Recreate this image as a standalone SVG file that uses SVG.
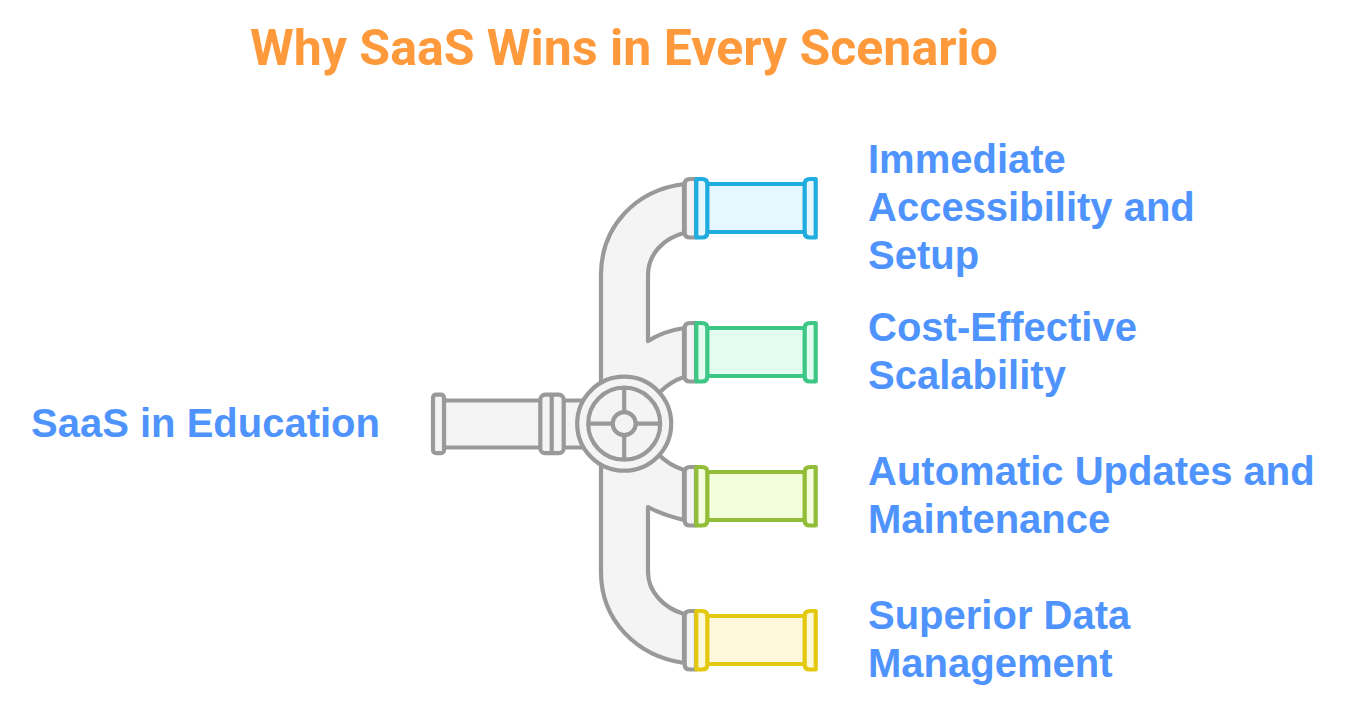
<svg xmlns="http://www.w3.org/2000/svg" width="1368" height="707" viewBox="0 0 1368 707">
<style>
text{font-family:"Liberation Sans",Arial,sans-serif;font-weight:700;font-size:40px;fill:#4f94fe}
.title{font-family:Roboto,"Liberation Sans",sans-serif;font-size:50px;font-weight:700;fill:#ff9a3c}
.g,.c{stroke-width:4.200;stroke-linejoin:round}
.g{fill:#f4f4f4;stroke:#999}
.blue{fill:#e6f7ff;stroke:#1eadde}
.green{fill:#e2fdef;stroke:#3ec685}
.olive{fill:#f2fedc;stroke:#92bd39}
.yellow{fill:#fef9da;stroke:#e3c90f}
</style>
<defs>
<path id="body" d="M707 0H805V48H707Z"/>
<path id="greyCollar" d="M696 -5H690Q684.700 -5 684.700 0V48.500Q684.700 53.500 690 53.500H696Z"/>
<path id="leftCollar" d="M696.300 -5H702Q707.300 -5 707.300 0V48.500Q707.300 53.500 702 53.500H696.300Z"/>
<path id="rightCollar" d="M815.700 -5H810Q804.700 -5 804.700 0V48.500Q804.700 53.500 810 53.500H815.700Z"/>
</defs>
<rect width="1368" height="707" fill="#fff"/>
<text class="title" x="250" y="64.500">Why SaaS Wins in Every Scenario</text>
<g id="connectors">
<path class="g" d="M684 184C636 190 601 226 601 275V572C601 620 636 656 684 663V614C664 608 648 592 648 572V507C659 513 671 517 684 520V470C674 467 665 461 658 454L660 392C667 385 675 380 684 377V328C671 330 659 334 648 341V275C648 254 664 238 684 233Z"/>
<path class="g" d="M444 400.500H541V447.500H444ZM563 400.500H590V447.500H563Z"/>
</g>
<g id="source">
<rect class="g" x="433" y="394.700" width="11" height="58.500" rx="3"/>
<rect class="g" x="540.300" y="394.700" width="23.400" height="58.500" rx="5"/>
<path class="g" d="M551.700 394.700V453.200"/>
<text x="31" y="437">SaaS in Education</text>
</g>
<g id="valve">
<circle class="g" cx="624.200" cy="423.700" r="47"/>
<circle class="g" cx="624.200" cy="423.700" r="36"/>
<path class="g" d="M624.200 387.700V459.700M588.200 423.700H660.200"/>
<circle class="g" cx="624.200" cy="423.700" r="11.500"/>
</g>
<g id="node1">
<use href="#greyCollar" class="g" y="184"/>
<use href="#body" class="c blue" y="184"/>
<use href="#leftCollar" class="c blue" y="184"/>
<use href="#rightCollar" class="c blue" y="184"/>
<text x="868" y="173">Immediate</text><text x="868" y="221">Accessibility and</text><text x="868" y="269">Setup</text>
</g>
<g id="node2">
<use href="#greyCollar" class="g" y="328"/>
<use href="#body" class="c green" y="328"/>
<use href="#leftCollar" class="c green" y="328"/>
<use href="#rightCollar" class="c green" y="328"/>
<text x="868" y="341">Cost-Effective</text><text x="868" y="389">Scalability</text>
</g>
<g id="node3">
<use href="#greyCollar" class="g" y="472"/>
<use href="#body" class="c olive" y="472"/>
<use href="#leftCollar" class="c olive" y="472"/>
<use href="#rightCollar" class="c olive" y="472"/>
<text x="868" y="485">Automatic Updates and</text><text x="868" y="533">Maintenance</text>
</g>
<g id="node4">
<use href="#greyCollar" class="g" y="616"/>
<use href="#body" class="c yellow" y="616"/>
<use href="#leftCollar" class="c yellow" y="616"/>
<use href="#rightCollar" class="c yellow" y="616"/>
<text x="868" y="629">Superior Data</text><text x="868" y="677">Management</text>
</g>
</svg>
